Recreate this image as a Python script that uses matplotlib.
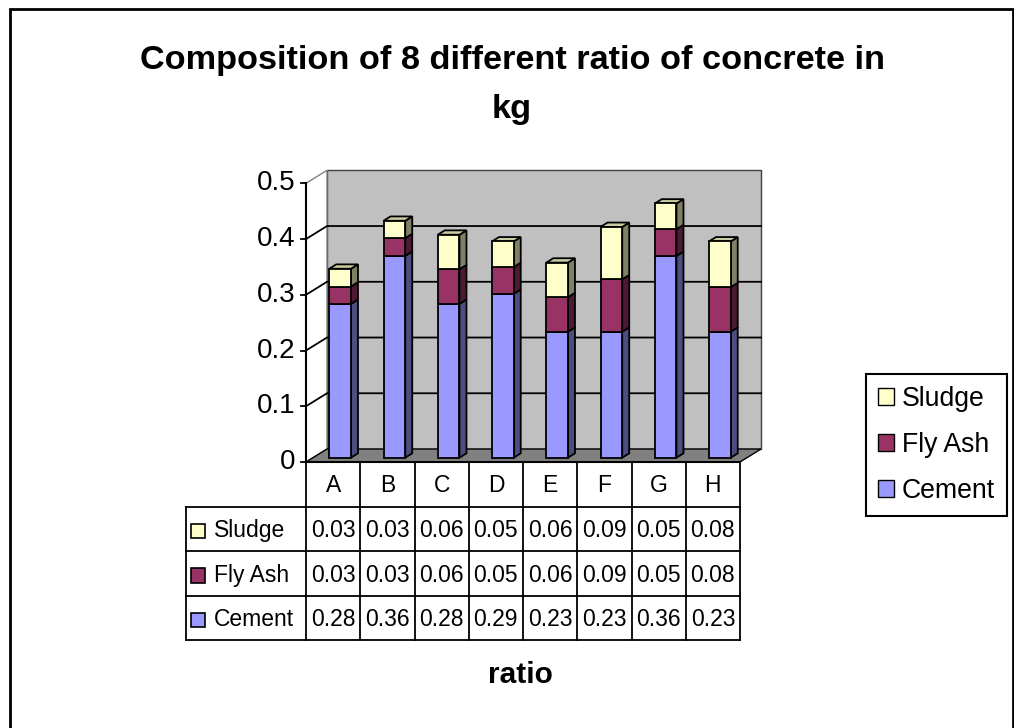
import matplotlib
matplotlib.use("Agg")
import matplotlib.pyplot as plt
import matplotlib.patches as mpatches
import numpy as np

plt.rcParams['font.family'] = ['Liberation Sans', 'DejaVu Sans']

# data (table shows them rounded to 2 decimals)
categories = ['A', 'B', 'C', 'D', 'E', 'F', 'G', 'H']
series_names = ['Cement', 'Fly Ash', 'Sludge']
cement = [0.276, 0.362, 0.276, 0.294, 0.226, 0.226, 0.362, 0.226]
fly_ash = [0.031, 0.032, 0.062, 0.048, 0.062, 0.094, 0.048, 0.080]
sludge = [0.032, 0.031, 0.062, 0.046, 0.062, 0.094, 0.046, 0.082]
y_ticks = [0, 0.1, 0.2, 0.3, 0.4, 0.5]

front_colors = ['#9999ff', '#993366', '#ffffcc']
side_colors = ['#4d4d80', '#4d1a33', '#808066']
top_colors = ['#ccccff', '#cc99b3', '#cccca3']

W, H = 1014, 728
fig = plt.figure(figsize=(W / 100, H / 100), dpi=100)


def px_box(x0, y0, x1, y1):
    # pixel box with top-left origin -> figure fraction [l, b, w, h]
    return [x0 / W, 1 - y1 / H, (x1 - x0) / W, (y1 - y0) / H]


# main 3d-looking plot
ax = fig.add_axes(px_box(306, 183.3, 740, 462))
ax.set_xlim(-0.5, 7.5)
ax.set_ylim(0, 0.5)
ax.axis('off')
ux = 8 / 434.0          # data units per pixel
uy = 0.5 / 278.7
DX, DY = 21 * ux, 13 * uy   # full depth of the box
x = np.arange(len(categories))
x0, x1 = -0.5, len(categories) - 0.5
top = y_ticks[-1]

# walls and floor
ax.add_patch(mpatches.Polygon([(x0 + DX, DY), (x1 + DX, DY), (x1 + DX, top + DY), (x0 + DX, top + DY)],
                              closed=True, fc='#c0c0c0', ec='#404040', lw=1, zorder=1, clip_on=False))
ax.add_patch(mpatches.Polygon([(x0, 0), (x1, 0), (x1 + DX, DY), (x0 + DX, DY)],
                              closed=True, fc='#808080', ec='black', lw=1, zorder=2, clip_on=False))
ax.add_patch(mpatches.Polygon([(x0, 0), (x0 + DX, DY), (x0 + DX, top + DY), (x0, top)],
                              closed=True, fc='white', ec='#808080', lw=1, zorder=1, clip_on=False))
for t in y_ticks[1:-1]:
    ax.plot([x0, x0 + DX, x1 + DX], [t, t + DY, t + DY], color='black', lw=1.3, zorder=3, clip_on=False)
for t in y_ticks:
    ax.plot([x0 - 5 * ux, x0], [t, t], color='black', lw=1.3, zorder=3, clip_on=False)
    ax.text(x0 - 11 * ux, t, f'{t:g}', ha='right', va='center', fontsize=20)
ax.plot([x0, x0], [0, top], color='black', lw=1.5, zorder=3, clip_on=False)

# stacked 3d bars
bw = 0.4
fx, fy = DX / 3, DY / 3
bottoms = np.zeros(len(categories))
stack = [cement, fly_ash, sludge]
for s, vals in enumerate(stack):
    vals = np.array(vals)
    ax.bar(x + fx, vals, width=bw, bottom=bottoms + fy, color=front_colors[s],
           edgecolor='black', lw=1.3, zorder=6, clip_on=False)
    for i in range(len(categories)):
        xr = x[i] + bw / 2 + fx
        yb = bottoms[i] + fy
        yt = bottoms[i] + vals[i] + fy
        ax.add_patch(mpatches.Polygon([(xr, yb), (xr + fx, yb + fy), (xr + fx, yt + fy), (xr, yt)],
                                      closed=True, fc=side_colors[s], ec='black', lw=1.3,
                                      zorder=5, clip_on=False))
        if s == len(stack) - 1:
            xl = x[i] - bw / 2 + fx
            ax.add_patch(mpatches.Polygon([(xl, yt), (xr, yt), (xr + fx, yt + fy), (xl + fx, yt + fy)],
                                          closed=True, fc=top_colors[s], ec='black', lw=1.3,
                                          zorder=5, clip_on=False))
    bottoms = bottoms + vals
ax.plot([x0, x1], [0, 0], color='black', lw=1.5, zorder=7, clip_on=False)

# data table below
LW = 120 / 54.25
tax = fig.add_axes(px_box(186, 462, 740, 640))
tax.set_xlim(x0 - LW, x1)
tax.set_ylim(4, 0)
tax.axis('off')
for r in range(1, 5):
    tax.plot([x0 - LW, x1], [r, r], color='black', lw=1.3, clip_on=False)
for k in range(len(categories) + 1):
    tax.plot([x0 + k, x0 + k], [0, 4], color='black', lw=1.3, clip_on=False)
tax.plot([x0 - LW, x0 - LW], [1, 4], color='black', lw=1.3, clip_on=False)
for i, c in enumerate(categories):
    tax.text(i, 0.52, c, ha='center', va='center', fontsize=16.5)
rows = [('Sludge', sludge, 2), ('Fly Ash', fly_ash, 1), ('Cement', cement, 0)]
for r, (name, vals, s) in enumerate(rows):
    yc = r + 1.55
    tax.add_patch(mpatches.Rectangle((x0 - LW + 5 / 54.25, yc - 0.16), 14 / 54.25, 0.32,
                                     fc=front_colors[s], ec='black', lw=1.2, clip_on=False))
    tax.text(x0 - LW + 28 / 54.25, yc, name, ha='left', va='center', fontsize=16.5)
    for i, v in enumerate(vals):
        tax.text(i, yc, f'{v:.2f}', ha='center', va='center', fontsize=16.5)

# legend
handles = [mpatches.Patch(fc=front_colors[s], ec='black', label=series_names[s]) for s in (2, 1, 0)]
leg = fig.legend(handles=handles, loc='upper left', bbox_to_anchor=(866 / W, 1 - 374 / H),
                 fontsize=19.2, frameon=True, fancybox=False, edgecolor='black', framealpha=1,
                 handlelength=0.6, handleheight=0.6, handletextpad=0.3, labelspacing=0.75,
                 borderpad=0.45, borderaxespad=0)
leg.get_frame().set_linewidth(1.5)

# titles
fig.text(512 / W, 1 - 85 / H, 'Composition of 8 different ratio of concrete in\nkg',
         ha='center', va='center', fontsize=24.7, weight='bold', linespacing=1.75)
fig.text(520 / W, 1 - 675 / H, 'ratio', ha='center', va='center', fontsize=21.5, weight='bold')

# chart area border
fig.add_artist(mpatches.Rectangle((10 / W, -0.05), 1003 / W, 1.05 - 9.5 / H, transform=fig.transFigure,
                                  fill=False, ec='black', lw=2))

fig.savefig('out.png', dpi=100)
